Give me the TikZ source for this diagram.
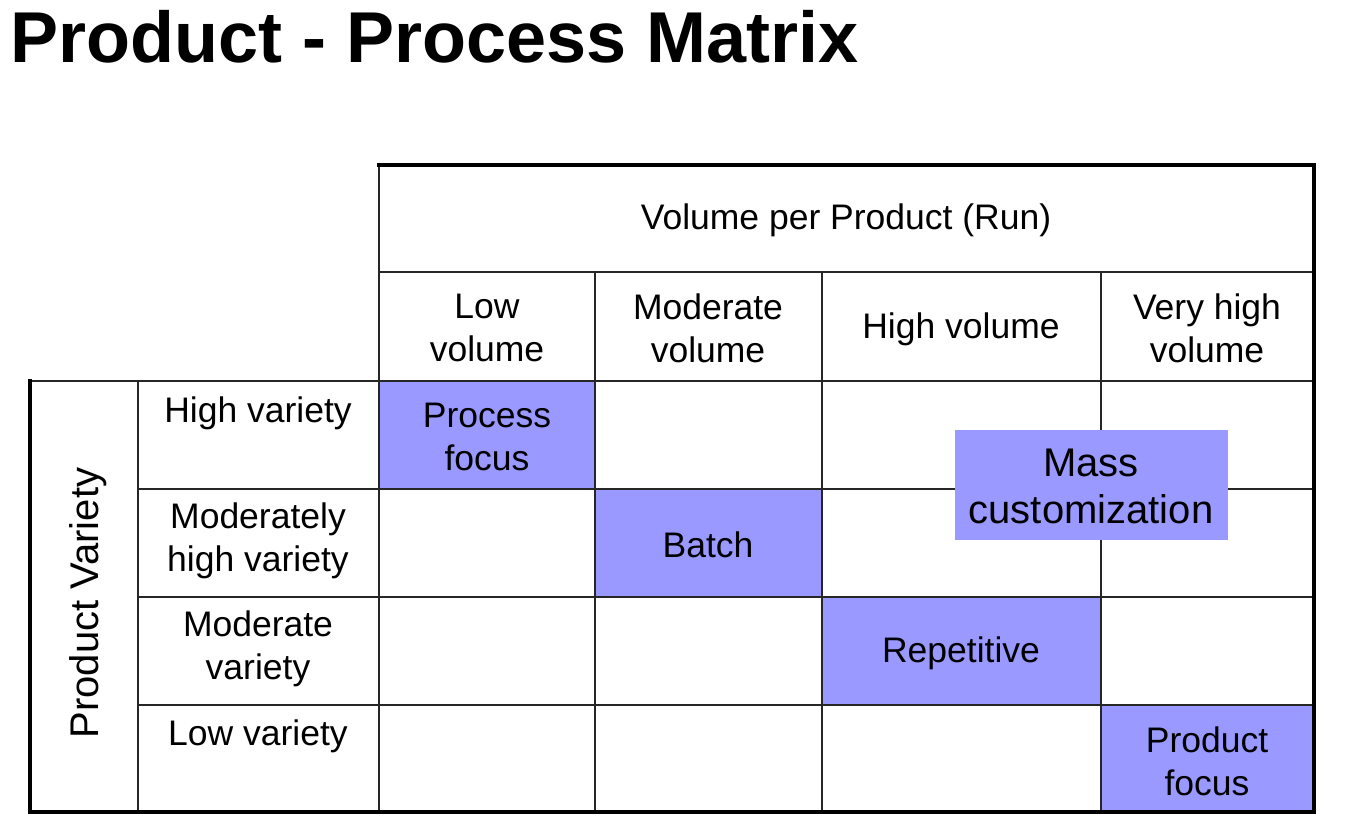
\documentclass[tikz,border=0pt]{standalone}
\usepackage{fontspec}
\setmainfont{Liberation Sans}
\definecolor{cellfill}{HTML}{9999FF}
\begin{document}
\begin{tikzpicture}[x=1pt,y=-1pt,
  thinline/.style={line width=1.5pt, black!85},
  thickline/.style={line width=3.2pt, black, line cap=rect},
  lbl/.style={font=\fontsize{35.5}{43}\selectfont, align=center, inner sep=0pt, text=black},
  biglbl/.style={font=\fontsize{40}{47}\selectfont, align=center, inner sep=0pt, text=black},
  cell/.style={fill=cellfill, draw=none}]
\useasboundingbox (0,0) rectangle (1346,832);
% title
\node[anchor=west, font=\fontsize{72}{80}\selectfont\bfseries, inner sep=0pt] (title) at (10,37) {Product - Process Matrix};
% filled cells
\fill[cell] (379,381) rectangle (595,489);
\fill[cell] (595,489) rectangle (822,597);
\fill[cell] (822,597) rectangle (1101,705);
\fill[cell] (1101,705) rectangle (1314,812);
% thin grid
\draw[thinline] (379,272) -- (1314,272);
\draw[thinline] (30,381) -- (1314,381);
\foreach \yy in {489,597,705} \draw[thinline] (138,\yy) -- (1314,\yy);
\draw[thinline] (138,381) -- (138,812);
\draw[thinline] (379,165) -- (379,812);
\foreach \xx in {595,822,1101} \draw[thinline] (\xx,272) -- (\xx,812);
% thick border
\draw[thickline] (379,165) -- (1314,165) -- (1314,812) -- (30,812) -- (30,381);
% mass customization box
\node[fill=cellfill, minimum width=273pt, minimum height=110pt, inner sep=0pt, anchor=north west] (mass) at (955,430) {};
\node[biglbl] (masst) at (1091,486) {Mass\\customization};
% headers
\node[lbl] (vol) at (846,220) {Volume per Product (Run)};
\node[lbl] (c1) at (487,328) {Low\\volume};
\node[lbl] (c2) at (708,328) {Moderate\\volume};
\node[lbl] (c3) at (961,329) {High volume};
\node[lbl] (c4) at (1207,328) {Very high\\volume};
% row labels
\node[lbl, font=\fontsize{40}{47}\selectfont, rotate=90] (pv) at (88,603) {Product Variety};
\node[lbl] (r1) at (258,413) {High variety};
\node[lbl] (r2) at (258,541) {Moderately\\high variety};
\node[lbl] (r3) at (258,649) {Moderate\\variety};
\node[lbl] (r4) at (258,736) {Low variety};
% cell texts
\node[lbl] (t1) at (487,437) {Process\\focus};
\node[lbl] (t2) at (708,545) {Batch};
\node[lbl] (t3) at (961,653) {Repetitive};
\node[lbl] (t4) at (1207,761) {Product\\focus};
\end{tikzpicture}
\end{document}
